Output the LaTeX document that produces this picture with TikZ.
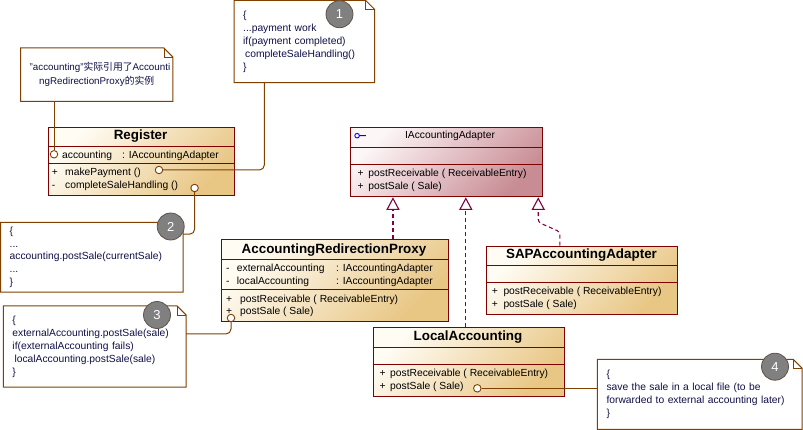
\documentclass[tikz,border=0pt]{standalone}
\usepackage{fontspec}
\setmainfont{Liberation Sans}
\newfontfamily\cjk{Noto Sans CJK SC}
\usetikzlibrary{arrows.meta}

\definecolor{clsred}{RGB}{128,0,0}
\definecolor{clstop}{RGB}{255,252,244}
\definecolor{clsbot}{RGB}{232,198,132}
\definecolor{iftop}{RGB}{253,246,247}
\definecolor{ifbot}{RGB}{200,140,148}
\definecolor{notebr}{RGB}{128,64,0}
\definecolor{notetxt}{RGB}{16,16,72}
\definecolor{realred}{RGB}{128,0,64}
\definecolor{badgebr}{RGB}{96,84,72}

\newcommand{\vis}[2]{\makebox[#1][l]{#2}}

\begin{document}
\begin{tikzpicture}[
  x=1pt, y=-1pt,
  font=\fontsize{10.3}{13}\selectfont,
  cls/.style={draw=clsred, line width=1pt, shade, top color=clstop, bottom color=clsbot,
              shading angle=45, anchor=north west, inner sep=0pt},
  iface/.style={cls, top color=iftop, bottom color=ifbot, shading angle=45},
  sepline/.style={draw=clsred, line width=1pt},
  ctitle/.style={font=\fontsize{13.4}{15}\selectfont\bfseries, anchor=base, inner sep=0pt},
  mem/.style={anchor=base west, inner sep=0pt},
  note/.style={fill=white, anchor=north west, inner xsep=9pt, inner ysep=2pt, align=left,
               text=notetxt, font=\fontsize{10.3}{13}\selectfont},
  badge/.style={circle, draw=badgebr, line width=0.8pt, fill=black!50, minimum size=27pt,
                inner sep=0pt, text=white, font=\fontsize{13}{13}\selectfont},
  lolly/.style={circle, draw=notebr, line width=0.9pt, fill=white, minimum size=7.5pt, inner sep=0pt},
  link/.style={draw=notebr, line width=1pt},
  realize/.style={draw=realred, line width=1.1pt, dash pattern=on 4pt off 3pt,
                  -{Triangle[open, length=12.7pt, width=13.3pt]}},
]
  \useasboundingbox (0,0) rectangle (803,430);

  \newcommand{\dogear}[1]{%
    \draw[notebr, line width=1pt] (#1.north west) -- ([xshift=-9pt]#1.north east)
      -- ([yshift=-9pt]#1.north east) -- (#1.south east) -- (#1.south west) -- cycle;
    \draw[notebr, line width=0.8pt] ([xshift=-9pt]#1.north east) |- ([yshift=-9pt]#1.north east);
  }

  % ===================== CLASSES =====================
  % Register
  \node[cls, minimum width=186pt, minimum height=68.6pt] (reg) at (47.6,126.7) {};
  \draw[sepline] ([yshift=-19.8pt]reg.north west) -- ([yshift=-19.8pt]reg.north east);
  \draw[sepline] ([yshift=-36.6pt]reg.north west) -- ([yshift=-36.6pt]reg.north east);
  \node[ctitle] (regT) at (140.6,140) {Register};
  \node[mem] (regA) at (62,158.1) {\vis{60pt}{accounting}: IAccountingAdapter};
  \node[mem] (regM1) at (51.7,175.8) {\vis{13.3pt}{+}makePayment ()};
  \node[mem] (regM2) at (51.7,188.5) {\vis{13.3pt}{-}completeSaleHandling ()};

  % IAccountingAdapter
  \node[iface, minimum width=192.5pt, minimum height=69pt] (iaa) at (349.5,127.3) {};
  \draw[sepline] ([yshift=-20.4pt]iaa.north west) -- ([yshift=-20.4pt]iaa.north east);
  \draw[sepline] ([yshift=-37pt]iaa.north west) -- ([yshift=-37pt]iaa.north east);
  \draw[blue, line width=0.9pt] ([shift={(7.6,8.4)}]iaa.north west) circle (2.3pt)
    ++(2.3,0) -- ++(6.4,0);
  \node[anchor=base, inner sep=0pt] (iaaT) at (450,138.3) {IAccountingAdapter};
  \node[mem] (iaaM1) at (357.3,176.5) {\vis{11pt}{+}postReceivable ( ReceivableEntry)};
  \node[mem] (iaaM2) at (357.3,189.8) {\vis{11pt}{+}postSale ( Sale)};

  % AccountingRedirectionProxy
  \node[cls, minimum width=226.5pt, minimum height=81.5pt] (px) at (221,239.3) {};
  \draw[sepline] ([yshift=-20pt]px.north west) -- ([yshift=-20pt]px.north east);
  \draw[sepline] ([yshift=-50pt]px.north west) -- ([yshift=-50pt]px.north east);
  \node[ctitle] (pxT) at (334,254) {AccountingRedirectionProxy};
  \node[mem] (pxA1) at (226,271.5) {\vis{10.7pt}{-}\vis{99.3pt}{externalAccounting}: IAccountingAdapter};
  \node[mem] (pxA2) at (226,284.8) {\vis{10.7pt}{-}\vis{99.3pt}{localAccounting}: IAccountingAdapter};
  \node[mem] (pxM1) at (226,302.1) {\vis{14pt}{+}postReceivable ( ReceivableEntry)};
  \node[mem] (pxM2) at (226,314.5) {\vis{14pt}{+}postSale ( Sale)};

  % SAPAccountingAdapter
  \node[cls, minimum width=191.6pt, minimum height=68.6pt] (sap) at (485.7,245.7) {};
  \draw[sepline] ([yshift=-20pt]sap.north west) -- ([yshift=-20pt]sap.north east);
  \draw[sepline] ([yshift=-37pt]sap.north west) -- ([yshift=-37pt]sap.north east);
  \node[ctitle] (sapT) at (581.5,259) {SAPAccountingAdapter};
  \node[mem] (sapM1) at (491.7,294.5) {\vis{11.6pt}{+}postReceivable ( ReceivableEntry)};
  \node[mem] (sapM2) at (491.7,307.8) {\vis{11.6pt}{+}postSale ( Sale)};

  % LocalAccounting
  \node[cls, minimum width=191.2pt, minimum height=69pt] (loc) at (372.5,327.3) {};
  \draw[sepline] ([yshift=-20pt]loc.north west) -- ([yshift=-20pt]loc.north east);
  \draw[sepline] ([yshift=-37pt]loc.north west) -- ([yshift=-37pt]loc.north east);
  \node[ctitle] (locT) at (468,341) {LocalAccounting};
  \node[mem] (locM1) at (379.4,376.5) {\vis{10.6pt}{+}postReceivable ( ReceivableEntry)};
  \node[mem] (locM2) at (379.4,389.5) {\vis{10.6pt}{+}postSale ( Sale)};

  % realizations
  \draw[realize] ([xshift=58.2pt]px.north) -- ([xshift=58.2pt]px.north |- iaa.south);
  \draw[realize] ([xshift=-2.8pt]loc.north) -- ([xshift=-2.8pt]loc.north |- iaa.south);
  \coordinate (sapTip) at ([xshift=92pt]iaa.south);
  \draw[realize, rounded corners=3pt] ([xshift=-22.2pt]sap.north) -- ++(0,-14)
    -- ([yshift=-25pt]sapTip) -- (sapTip);

  % ===================== NOTES =====================
  \node[note, align=center, text width=134pt, minimum height=53pt, font=\fontsize{9.8}{14}\selectfont]
    (nA) at (20.5,48) {"accounting"{\cjk 实际引用了}Accounti\\ngRedirectionProxy{\cjk 的实例}};
  \dogear{nA}
  \node[note, text width=122.3pt, minimum height=81.8pt] (n1) at (234,0.5)
    {\{\\...payment work\\if(payment completed)\\\hspace{2pt}completeSaleHandling()\\\}};
  \dogear{n1}
  \node[note, text width=164.2pt, minimum height=69.4pt, font=\fontsize{10.3}{12.8}\selectfont]
    (n2) at (0.5,222.3) {\{\\...\\accounting.postSale(currentSale)\\...\\\}};
  \dogear{n2}
  \node[note, text width=164.4pt, minimum height=80.7pt] (n3) at (3.3,306)
    {\{\\externalAccounting.postSale(sale)\\if(externalAccounting fails)\\\hspace{2pt}localAccounting.postSale(sale)\\\}};
  \dogear{n3}
  \node[note, text width=186.4pt, minimum height=69.7pt, font=\fontsize{10.3}{13.3}\selectfont]
    (n4) at (597.3,359.3) {\{\\save the sale in a local file (to be\\forwarded to external accounting later)\\\}};
  \dogear{n4}

  % ===================== LINKS =====================
  \node[lolly] (cAcc) at (54,154.3) {};
  \node[lolly] (cMake) at (159,170) {};
  \node[lolly] (cComp) at (194.6,188) {};
  \node[lolly] (cPost) at (231,318) {};
  \node[lolly] (cLoc) at (477.3,388.3) {};

  \draw[link] (cAcc.north) -- (cAcc.north |- nA.south);
  \draw[link, rounded corners=5pt] (cMake.east) -| ([xshift=-40pt]n1.south);
  \draw[link, rounded corners=5pt] (cComp.south) |- ([yshift=23pt]n2.east);
  \draw[link, rounded corners=5pt] ([yshift=12.6pt]n3.east) -| (cPost.south);
  \draw[link] (cLoc.east) -- (cLoc.east -| n4.west);

  % badges
  \node[badge] (b1) at (339.5,14.2) {1};
  \node[badge] (b2) at (170.7,226.5) {2};
  \node[badge] (b3) at (157,315) {3};
  \node[badge] (b4) at (775,366.7) {4};
\end{tikzpicture}
\end{document}
